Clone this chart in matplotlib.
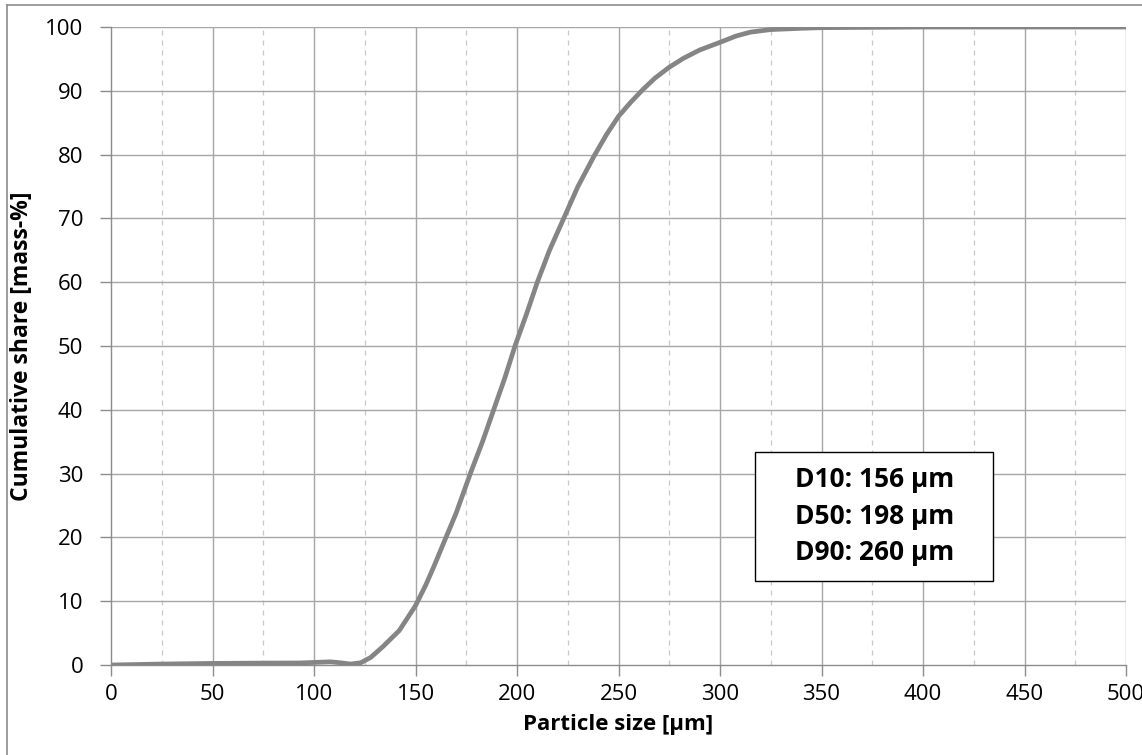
import matplotlib.pyplot as plt
from matplotlib.lines import Line2D
from matplotlib.patches import Rectangle

# cumulative size distribution
size_um = [0, 25, 50, 75, 93, 100, 108, 113, 118, 123, 128, 134, 142, 150, 155,
           159, 165, 170, 177, 183, 188.5, 194, 199, 205, 210, 216, 223, 230, 238,
           244, 250, 256, 262, 268, 275, 282, 290, 300, 308, 315, 325, 340, 350,
           375, 400, 500]
cum_share = [0.0, 0.15, 0.25, 0.3, 0.32, 0.4, 0.5, 0.35, 0.15, 0.35, 1.2, 2.9, 5.4,
             9.3, 12.5, 15.4, 20.0, 23.8, 30.0, 35.0, 40.0, 45.0, 50.0, 55.3, 60.0,
             65.0, 70.0, 75.0, 79.8, 83.1, 86.0, 88.2, 90.2, 92.0, 93.7, 95.1, 96.4,
             97.6, 98.6, 99.2, 99.6, 99.8, 99.9, 99.95, 100.0, 100.0]

x_major = list(range(0, 501, 50))
x_minor = list(range(25, 500, 50))
y_major = list(range(0, 101, 10))
stats_text = "D10: 156 µm\nD50: 198 µm\nD90: 260 µm"

plt.rcParams['font.family'] = ['Open Sans', 'DejaVu Sans']

fig = plt.figure(figsize=(11.42, 7.55), dpi=100)
ax = fig.add_axes([0.0972, 0.1192, 0.8888, 0.845])

# outer chart frame (top and left visible in the reference)
fig.add_artist(Line2D([7/1142, 1.0], [1 - 5/755, 1 - 5/755], color='#8c8c8c', lw=1.2))
fig.add_artist(Line2D([7/1142, 7/1142], [0.0, 1 - 5/755], color='#8c8c8c', lw=1.2))

for x in x_minor:
    ax.axvline(x, color='#c8c8c8', lw=0.9, ls=(0, (4, 4)), zorder=1)
for x in x_major[1:]:
    ax.axvline(x, color='#a6a6a6', lw=1.0, zorder=1)
for y in y_major[1:]:
    ax.axhline(y, color='#a6a6a6', lw=1.0, zorder=1)

ax.plot(size_um, cum_share, color='#858585', lw=3.4, solid_capstyle='round',
        solid_joinstyle='round', zorder=3)

ax.set_xlim(0, 500)
ax.set_ylim(0, 100)
ax.set_xticks(x_major)
ax.set_yticks(y_major)
ax.tick_params(axis='both', direction='out', length=8, width=1.0, color='#8c8c8c',
               labelsize=16)
ax.tick_params(axis='y', pad=12)
ax.tick_params(axis='x', pad=6)

for side in ['top', 'right']:
    ax.spines[side].set_visible(False)
for side in ['left', 'bottom']:
    ax.spines[side].set_color('#8c8c8c')
    ax.spines[side].set_linewidth(1.0)

ax.set_xlabel('Particle size [µm]', fontsize=16, fontweight='bold', labelpad=6)
ax.set_ylabel('Cumulative share [mass-%]', fontsize=16.5, fontweight='bold', labelpad=8)

# D-values box
ax.add_patch(Rectangle((317.4, 13.2), 117.2, 20.2, facecolor='white', edgecolor='black',
                       lw=1.0, zorder=4))
ax.text(376, 23.3, stats_text, fontsize=19, fontweight='bold', ha='center', va='center',
        linespacing=1.45, zorder=5)

fig.savefig('out.png', dpi=100)
